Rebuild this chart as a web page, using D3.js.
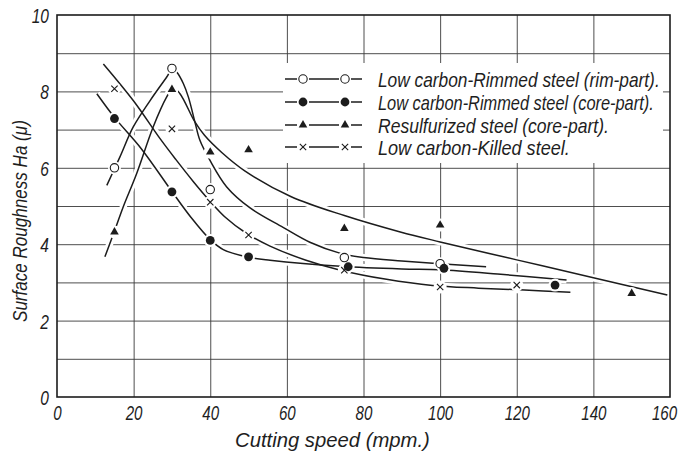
<!DOCTYPE html>
<html>
<head>
<meta charset="utf-8">
<script src="https://cdn.jsdelivr.net/npm/d3@7"></script>
<style>
  body { margin: 0; background: #fff; }
  text { font-family: "Liberation Sans", sans-serif; font-style: italic; fill: #1e1e1e; }
</style>
</head>
<body>
<div id="chart"></div>
<script>
// measured points (cutting speed, roughness)
const rimSpeed = [15, 30, 40, 75, 100];
const rimRough = [6.0, 8.6, 5.43, 3.65, 3.49];
const coreSpeed = [15, 30, 40, 50, 76, 101, 130];
const coreRough = [7.29, 5.37, 4.1, 3.67, 3.41, 3.37, 2.93];
const resSpeed = [15, 30, 40, 50, 75, 100, 150];
const resRough = [4.32, 8.05, 6.41, 6.47, 4.41, 4.5, 2.71];
const killedSpeed = [15, 30, 40, 50, 75, 100, 120];
const killedRough = [8.07, 7.02, 5.1, 4.24, 3.32, 2.88, 2.93];

// hand-drawn fit curves
const rimCurve = [[13, 5.54], [16.4, 6.28], [19.9, 7.07], [24.3, 7.76], [28.6, 8.37], [30.2, 8.6], [31.3, 8.5],
  [33, 8.2], [34.3, 7.85], [36, 7.2], [37.3, 6.72], [39.9, 6.2], [44.3, 5.5], [50.4, 4.95], [59, 4.44],
  [66, 4.05], [74, 3.76], [80, 3.65], [90, 3.56], [112, 3.41]];
const coreCurve = [[10.4, 7.94], [15, 7.32], [22, 6.5], [30, 5.38], [35, 4.7], [40, 4.12], [43.4, 3.86],
  [50, 3.66], [55.6, 3.58], [74, 3.42], [90, 3.35], [100, 3.33], [115, 3.22], [133, 3.06]];
const resCurve = [[12.5, 3.67], [15.1, 4.37], [17.3, 4.98], [20.8, 5.85], [25.1, 7.07], [28.6, 7.85], [30.3, 8.1],
  [32.1, 7.94], [36, 7.2], [38.5, 6.85], [43, 6.4], [49, 5.92], [61, 5.25], [75, 4.75], [89.6, 4.32],
  [100, 4.06], [120, 3.59], [140, 3.12], [159.3, 2.67]];
const killedCurve = [[12.1, 8.72], [20, 7.75], [27, 6.75], [31, 6.22], [35.5, 5.65], [40, 5.12], [44, 4.7],
  [49.5, 4.28], [55.6, 3.95], [65, 3.58], [74, 3.32], [86, 3.08], [98, 2.92], [110, 2.85], [122, 2.8], [134, 2.74]];

const seriesNames = [
  "Low carbon-Rimmed steel (rim-part).",
  "Low carbon-Rimmed steel (core-part).",
  "Resulfurized steel (core-part).",
  "Low carbon-Killed steel."
];
const markerKinds = ["open", "filled", "triangle", "cross"];

const xTickLabels = [0, 20, 40, 60, 80, 100, 120, 140, 160];
const yTickLabels = [0, 2, 4, 6, 8, 10];
const xGrid = [20, 40, 60, 80, 100, 120, 140];
const yGrid = [1, 2, 3, 4, 5, 6, 7, 8, 9];

const W = 678, H = 452;
const plot = { left: 57, right: 670, top: 15, bottom: 397 };

const svg = d3.select("#chart").append("svg")
  .attr("width", W).attr("height", H);

const x = d3.scaleLinear().domain([0, 160]).range([plot.left, plot.right]);
const y = d3.scaleLinear().domain([0, 10]).range([plot.bottom, plot.top]);

const ink = "#1c1c1c";

// squeeze a text horizontally to a given width (the lettering is condensed)
function squeeze(node, width, base) {
  const w = node.getComputedTextLength();
  d3.select(node).attr("transform", `${base || ""} scale(${width / w},1)`);
}

// grid
svg.append("g")
  .attr("transform", `translate(0,${plot.bottom})`)
  .call(d3.axisBottom(x).tickValues(xGrid).tickSize(-(plot.bottom - plot.top)).tickFormat(""))
  .call(g => g.select(".domain").remove())
  .selectAll("line").attr("stroke", "#3a3a3a").attr("stroke-width", 0.9);
svg.append("g")
  .attr("transform", `translate(${plot.left},0)`)
  .call(d3.axisLeft(y).tickValues(yGrid).tickSize(-(plot.right - plot.left)).tickFormat(""))
  .call(g => g.select(".domain").remove())
  .selectAll("line").attr("stroke", "#3a3a3a").attr("stroke-width", 0.9);

// legend background hides the grid behind it
svg.append("rect")
  .attr("x", 283).attr("y", 63).attr("width", 380).attr("height", 100)
  .attr("fill", "#fff");

const line = d3.line()
  .x(d => x(d[0])).y(d => y(d[1]))
  .curve(d3.curveCatmullRom.alpha(0.5));

const curves = [rimCurve, coreCurve, resCurve, killedCurve];

// white halos break the grid where curves cross it
svg.append("g").selectAll("path")
  .data(curves).enter().append("path")
  .attr("d", line).attr("fill", "none")
  .attr("stroke", "#fff").attr("stroke-width", 7);
svg.append("g").selectAll("path")
  .data(curves).enter().append("path")
  .attr("d", line).attr("fill", "none")
  .attr("stroke", ink).attr("stroke-width", 1.5);

function drawMarker(g, kind, cx, cy) {
  if (kind === "open") {
    g.append("circle").attr("cx", cx).attr("cy", cy).attr("r", 4.2)
      .attr("fill", "#fff").attr("stroke", ink).attr("stroke-width", 1.1);
  } else if (kind === "filled") {
    g.append("circle").attr("cx", cx).attr("cy", cy).attr("r", 4.4).attr("fill", ink);
  } else if (kind === "triangle") {
    g.append("path").attr("d", d3.symbol(d3.symbolTriangle).size(32)())
      .attr("transform", `translate(${cx},${cy})`).attr("fill", ink);
  } else {
    g.append("path").attr("d", d3.symbol(d3.symbolTimes).size(28)())
      .attr("transform", `translate(${cx},${cy})`)
      .attr("fill", "none").attr("stroke", ink).attr("stroke-width", 1.1);
  }
}

const pointSets = [
  [rimSpeed, rimRough],
  [coreSpeed, coreRough],
  [resSpeed, resRough],
  [killedSpeed, killedRough]
];

const halos = svg.append("g");
const marks = svg.append("g");
pointSets.forEach((set, i) => {
  set[0].forEach((s, j) => {
    halos.append("circle").attr("cx", x(s)).attr("cy", y(set[1][j])).attr("r", 6.5).attr("fill", "#fff");
    drawMarker(marks, markerKinds[i], x(s), y(set[1][j]));
  });
});

// frame
svg.append("rect")
  .attr("x", plot.left).attr("y", plot.top)
  .attr("width", plot.right - plot.left).attr("height", plot.bottom - plot.top)
  .attr("fill", "none").attr("stroke", ink).attr("stroke-width", 1.6);

// tick labels
const xAxis = svg.append("g")
  .attr("transform", `translate(0,${plot.bottom})`)
  .call(d3.axisBottom(x).tickValues(xTickLabels).tickSize(0));
xAxis.select(".domain").remove();
xAxis.selectAll("text")
  .attr("y", 23).attr("dy", 0)
  .style("font-size", "21px").style("font-family", null).attr("fill", null)
  .each(function (d) {
    // the last label sits inside the frame edge, as in the figure
    const shift = d === 160 ? -6 : 0;
    squeeze(this, this.getComputedTextLength() * 0.72, `translate(${shift},0)`);
  });

const yAxis = svg.append("g")
  .attr("transform", `translate(${plot.left},0)`)
  .call(d3.axisLeft(y).tickValues(yTickLabels).tickSize(0));
yAxis.select(".domain").remove();
yAxis.selectAll("text")
  .attr("x", 0).attr("y", 7.5).attr("dy", 0)
  .style("font-size", "21px").style("font-family", null).attr("fill", null)
  .each(function () { squeeze(this, this.getComputedTextLength() * 0.74, "translate(-8,0)"); });

// legend
const legendRows = [79, 102, 125, 147];
const legendWidths = [282, 276, 231, 192];
const legend = svg.append("g");
seriesNames.forEach((name, i) => {
  const ry = legendRows[i];
  legend.append("line").attr("x1", 285).attr("x2", 362).attr("y1", ry).attr("y2", ry)
    .attr("stroke", ink).attr("stroke-width", 1.5);
  [303, 345].forEach(mx => {
    legend.append("rect").attr("x", mx - 6).attr("y", ry - 3).attr("width", 12).attr("height", 6).attr("fill", "#fff");
    drawMarker(legend, markerKinds[i], mx, ry);
  });
  legend.append("text")
    .style("font-size", "20px")
    .text(name)
    .each(function () { squeeze(this, legendWidths[i], `translate(378,${ry + 7.5})`); });
});

// axis titles
svg.append("text")
  .style("font-size", "20px")
  .text("Cutting speed (mpm.)")
  .each(function () { squeeze(this, 195, "translate(235,447)"); });

svg.append("text")
  .style("font-size", "20px")
  .text("Surface Roughness Ha (μ)")
  .each(function () { squeeze(this, 202, "translate(27,322) rotate(-90)"); });
</script>
</body>
</html>
